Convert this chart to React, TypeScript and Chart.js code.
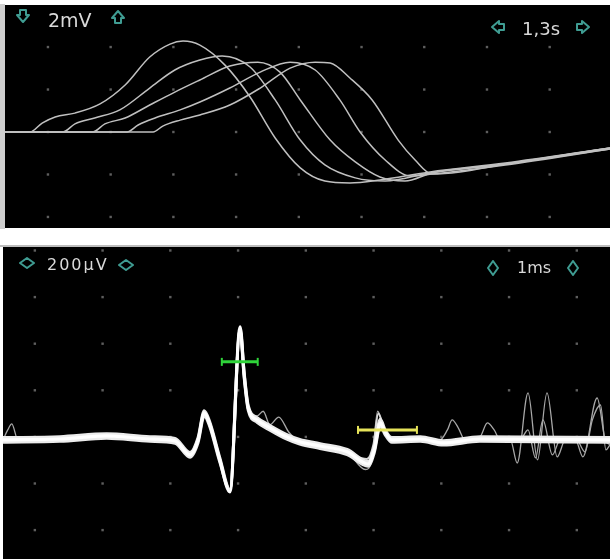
import React, { useEffect, useRef } from "react";
import { Chart, registerables } from "chart.js";
Chart.register(...registerables);

// ---------- Top panel: time in s (1,3 s/div), amplitude in mV (2 mV/div) ----------
const topGridX = [0, 1.3, 2.6, 3.9, 5.2, 6.5, 7.8, 9.1, 10.4];
const topGridY = [-4, -2, 0, 2, 4];
const topRange = { xMin: -0.89, xMax: 11.65, yMin: -4.52, yMax: 5.98 };

const topTrace1 = [[-0.89, 0], [-0.37, 0], [-0.12, 0.42], [0.15, 0.71], [0.56, 0.89], [1.08, 1.32], [1.6, 2.21], [2.11, 3.53], [2.53, 4.14], [2.8, 4.28], [3.15, 4.09], [3.67, 3.15], [4.19, 1.65], [4.71, -0.28], [5.23, -1.69], [5.74, -2.31], [6.26, -2.4], [6.88, -2.26], [7.92, -1.88], [9.48, -1.46], [11.65, -0.75]];
const topTrace2 = [[-0.89, 0], [0.31, 0], [0.56, 0.38], [0.97, 0.66], [1.49, 1.04], [2.11, 2.07], [2.63, 2.92], [3.15, 3.39], [3.61, 3.58], [4.19, 3.06], [4.71, 1.51], [5.23, -0.38], [5.74, -1.55], [6.37, -2.16], [6.99, -2.31], [7.92, -1.93], [9.48, -1.51], [11.65, -0.8]];
const topTrace3 = [[-0.89, 0], [0.93, 0], [1.18, 0.38], [1.6, 0.66], [2.11, 1.27], [2.63, 1.88], [3.15, 2.45], [3.77, 3.11], [4.35, 3.29], [4.81, 2.82], [5.23, 1.51], [5.85, -0.38], [6.37, -1.41], [6.88, -2.12], [7.4, -2.31], [7.96, -1.93], [9.48, -1.51], [11.65, -0.75]];
const topTrace4 = [[-0.89, 0], [1.64, 0], [1.87, 0.33], [2.22, 0.66], [2.74, 1.04], [3.15, 1.41], [3.77, 2.07], [4.4, 2.82], [5.02, 3.29], [5.54, 2.92], [6.05, 1.51], [6.47, 0], [6.99, -1.32], [7.51, -2.07], [7.96, -1.98], [9.48, -1.55], [11.65, -0.8]];
const topTrace5 = [[-0.89, 0], [2.18, 0], [2.38, 0.28], [2.74, 0.56], [3.15, 0.8], [3.77, 1.27], [4.4, 2.07], [5.02, 3.01], [5.54, 3.29], [5.85, 3.25], [6.26, 2.54], [6.72, 1.51], [7.26, -0.38], [7.61, -1.32], [7.96, -1.98], [8.54, -1.88], [9.48, -1.51], [11.65, -0.75]];

// ---------- Bottom panel: time in ms (1 ms/div), amplitude in µV (200 µV/div) ----------
const botGridX = [0, 1, 2, 3, 4, 5, 6, 7, 8];
const botGridY = [-400, -200, 0, 200, 400, 600, 800];
const botRange = { xMin: -0.47, xMax: 8.49, yMin: -524, yMax: 815 };

const sweepA = [[-0.47, -13], [0.37, -9], [1.06, 4], [1.7, -9], [2.07, -17], [2.29, -77], [2.41, -13], [2.5, 103], [2.58, 56], [2.73, -99], [2.88, -236], [3.03, 472], [3.09, 266], [3.15, 124], [3.28, 73], [3.47, 39], [3.72, 0], [3.91, -21], [4.21, -39], [4.61, -64], [4.92, -116], [5.01, -56], [5.1, 60], [5.17, 21], [5.27, -13], [5.69, -9], [6.03, -26], [6.57, -9], [8.49, -13]];
const sweepB = [[-0.47, -23], [0.37, -19], [1.06, -6], [1.7, -19], [2.07, -27], [2.29, -87], [2.41, -24], [2.5, 90], [2.58, 46], [2.73, -108], [2.88, -228], [3.03, 458], [3.09, 254], [3.15, 114], [3.28, 63], [3.47, 29], [3.72, -10], [3.91, -31], [4.21, -50], [4.61, -76], [4.92, -126], [5.01, -68], [5.1, 48], [5.17, 10], [5.27, -23], [5.69, -19], [6.03, -35], [6.57, -19], [8.49, -23]];
const sweepC = [[-0.47, -3], [0.37, 1], [1.06, 13], [1.7, 1], [2.07, -7], [2.29, -67], [2.41, -2], [2.5, 112], [2.58, 66], [2.73, -89], [2.88, -226], [3.03, 462], [3.09, 276], [3.15, 134], [3.28, 83], [3.47, 49], [3.72, 10], [3.91, -11], [4.21, -29], [4.61, -54], [4.92, -106], [5.01, -42], [5.1, 76], [5.17, 31], [5.27, -3], [5.69, 1], [6.03, -16], [6.57, 1], [8.49, -3]];
const sweepD = [[-0.47, -8], [0.37, -4], [1.06, 8], [1.7, -4], [2.07, -12], [2.29, -70], [2.41, -5], [2.5, 96], [2.58, 62], [2.73, -92], [2.88, -230], [3.03, 465], [3.09, 258], [3.15, 118], [3.28, 80], [3.47, 44], [3.72, 6], [3.91, -15], [4.21, -45], [4.61, -70], [4.9, -95], [5.0, -30], [5.07, 100], [5.15, 40], [5.27, -8], [5.69, -4], [6.03, -20], [6.57, -4], [8.49, -8]];
const noiseA = [[-0.47, -13], [0.37, -9], [1.06, 4], [1.7, -9], [2.07, -17], [2.29, -77], [2.41, -13], [2.5, 103], [2.58, 56], [2.73, -99], [2.88, -236], [3.03, 472], [3.09, 266], [3.15, 124], [3.28, 90], [3.37, 110], [3.47, 52], [3.6, 85], [3.75, 20], [3.91, -21], [4.21, -39], [4.61, -64], [4.88, -140], [4.98, -90], [5.06, 110], [5.17, 21], [5.27, -13], [5.69, -9], [5.98, -13], [6.09, 30], [6.16, 73], [6.25, 39], [6.35, -13], [6.57, 0], [6.68, 60], [6.78, 30], [6.87, -13], [7.02, -13], [7.12, -112], [7.28, 189], [7.42, -99], [7.56, 189], [7.71, -86], [7.83, -13], [7.98, -13], [8.09, -86], [8.3, 167], [8.42, -13], [8.49, -34]];
const noiseB = [[-0.47, -13], [-0.4, 30], [-0.34, 56], [-0.25, -13], [0.37, -9], [1.06, 8], [1.7, -9], [2.07, -17], [2.29, -80], [2.41, -10], [2.5, 100], [2.58, 60], [2.73, -95], [2.88, -232], [3.03, 468], [3.09, 262], [3.15, 120], [3.28, 70], [3.47, 36], [3.72, -2], [3.91, -22], [4.21, -40], [4.61, -66], [4.9, -120], [5.0, -70], [5.08, 55], [5.17, 18], [5.27, -13], [5.69, -9], [6.03, -26], [6.57, -9], [7.16, -13], [7.28, 30], [7.39, -90], [7.5, 73], [7.64, -77], [7.75, -13], [7.98, -4], [8.12, -64], [8.23, 73], [8.35, 137], [8.43, -56], [8.49, -34]];

const peakMarker = [[2.76, 322], [3.29, 322]];
const latencyMarker = [[4.77, 30], [5.64, 30]];

const toXY = (arr: number[][]) => arr.map(([x, y]) => ({ x, y }));

const dotGridPlugin = (gx: number[], gy: number[]) => ({
  id: "dotGrid",
  beforeDatasetsDraw(chart: any) {
    const { ctx, scales } = chart;
    ctx.save();
    ctx.fillStyle = "#5e5e5e";
    for (const vx of gx) {
      for (const vy of gy) {
        const px = scales.x.getPixelForValue(vx);
        const py = scales.y.getPixelForValue(vy);
        ctx.fillRect(px - 1.2, py - 1.2, 2.4, 2.4);
      }
    }
    ctx.restore();
  },
});

const traceDs = (data: number[][], color: string, width: number) => ({
  data: toXY(data),
  borderColor: color,
  borderWidth: width,
  pointRadius: 0,
  fill: false,
  cubicInterpolationMode: "monotone" as const,
});

const markerDs = (data: number[][], color: string) => ({
  data: toXY(data),
  borderColor: color,
  backgroundColor: color,
  borderWidth: 3,
  pointStyle: "line" as const,
  rotation: 90,
  pointRadius: 4,
  pointBorderWidth: 2,
  pointBorderColor: color,
  fill: false,
  tension: 0,
});

function makeOptions(r: { xMin: number; xMax: number; yMin: number; yMax: number }) {
  return {
    responsive: false,
    animation: false as const,
    layout: { padding: 0, autoPadding: false },
    plugins: { legend: { display: false }, tooltip: { enabled: false } },
    events: [],
    scales: {
      x: { type: "linear" as const, min: r.xMin, max: r.xMax, display: false },
      y: { type: "linear" as const, min: r.yMin, max: r.yMax, display: false },
    },
  };
}

function Scope({ w, h, datasets, range, gx, gy }: any) {
  const ref = useRef<HTMLCanvasElement>(null);
  useEffect(() => {
    if (!ref.current) return;
    const chart = new Chart(ref.current, {
      type: "line",
      data: { datasets },
      options: makeOptions(range) as any,
      plugins: [dotGridPlugin(gx, gy)],
    });
    return () => chart.destroy();
  }, []);
  return <canvas ref={ref} width={w} height={h} style={{ display: "block", background: "#000", width: w, height: h }} />;
}

const textStyle = (left: number, top: number, size: number, spacing = 0): React.CSSProperties => ({
  position: "absolute",
  left,
  top,
  fontSize: size,
  lineHeight: 1,
  fontFamily: "'DejaVu Sans', Verdana, sans-serif",
  color: "#d9d9d9",
  letterSpacing: spacing,
  whiteSpace: "nowrap",
});

const iconPaths: Record<string, string> = {
  down: "5,2 11,2 11,7 14,7 8,14 2,7 5,7",
  up: "5,14 11,14 11,9 14,9 8,2 2,9 5,9",
  left: "14,5 9,5 9,2 2,8 9,14 9,11 14,11",
  right: "2,5 7,5 7,2 14,8 7,14 7,11 2,11",
  diamondH: "1,8 8,3 15,8 8,13",
  diamondV: "8,1 13,8 8,15 3,8",
};

function Icon({ kind, cx, cy, size = 16 }: { kind: string; cx: number; cy: number; size?: number }) {
  return (
    <svg width={size} height={size} viewBox="0 0 16 16" style={{ position: "absolute", left: cx - size / 2, top: cy - size / 2 }}>
      <polygon points={iconPaths[kind]} fill="none" stroke="#3f9c92" strokeWidth={2} strokeLinejoin="round" />
    </svg>
  );
}

export default function App() {
  const topSets = [
    traceDs(topTrace1, "#c0c0c0", 1.5),
    traceDs(topTrace2, "#c0c0c0", 1.5),
    traceDs(topTrace3, "#c0c0c0", 1.5),
    traceDs(topTrace4, "#c0c0c0", 1.5),
    traceDs(topTrace5, "#c0c0c0", 1.5),
  ];
  const botSets = [
    markerDs(peakMarker, "#2fd43a"),
    markerDs(latencyMarker, "#e6e35a"),
    traceDs(sweepA, "#ffffff", 3.2),
    traceDs(sweepB, "#ececec", 3),
    traceDs(sweepC, "#ececec", 3),
    traceDs(sweepD, "#d8d8d8", 2),
    traceDs(noiseA, "#a8a8a8", 1.3),
    traceDs(noiseB, "#a8a8a8", 1.3),
  ];
  return (
    <div style={{ position: "absolute", left: 0, top: 0, width: 610, height: 559, background: "#fff", overflow: "hidden" }}>
      <div style={{ position: "absolute", left: 0, top: 4, width: 5, height: 225, background: "#cfcfcf" }} />
      <div style={{ position: "absolute", left: 5, top: 5 }}>
        <Scope w={605} h={223} datasets={topSets} range={topRange} gx={topGridX} gy={topGridY} />
      </div>
      <div style={{ position: "absolute", left: 0, top: 245, width: 610, height: 2, background: "#bdbdbd" }} />
      <div style={{ position: "absolute", left: 3, top: 247 }}>
        <Scope w={607} h={312} datasets={botSets} range={botRange} gx={botGridX} gy={botGridY} />
      </div>

      <Icon kind="down" cx={23} cy={16} />
      <span style={textStyle(48, 11, 19)}>2mV</span>
      <Icon kind="up" cx={118} cy={17} />

      <Icon kind="left" cx={498} cy={27} />
      <span style={textStyle(522, 20, 18)}>1,3s</span>
      <Icon kind="right" cx={583} cy={27} />

      <Icon kind="diamondH" cx={27} cy={263} />
      <span style={textStyle(47, 257, 16, 2)}>200µV</span>
      <Icon kind="diamondH" cx={126} cy={265} />

      <Icon kind="diamondV" cx={493} cy={268} />
      <span style={textStyle(517, 260, 16)}>1ms</span>
      <Icon kind="diamondV" cx={573} cy={268} />
    </div>
  );
}
